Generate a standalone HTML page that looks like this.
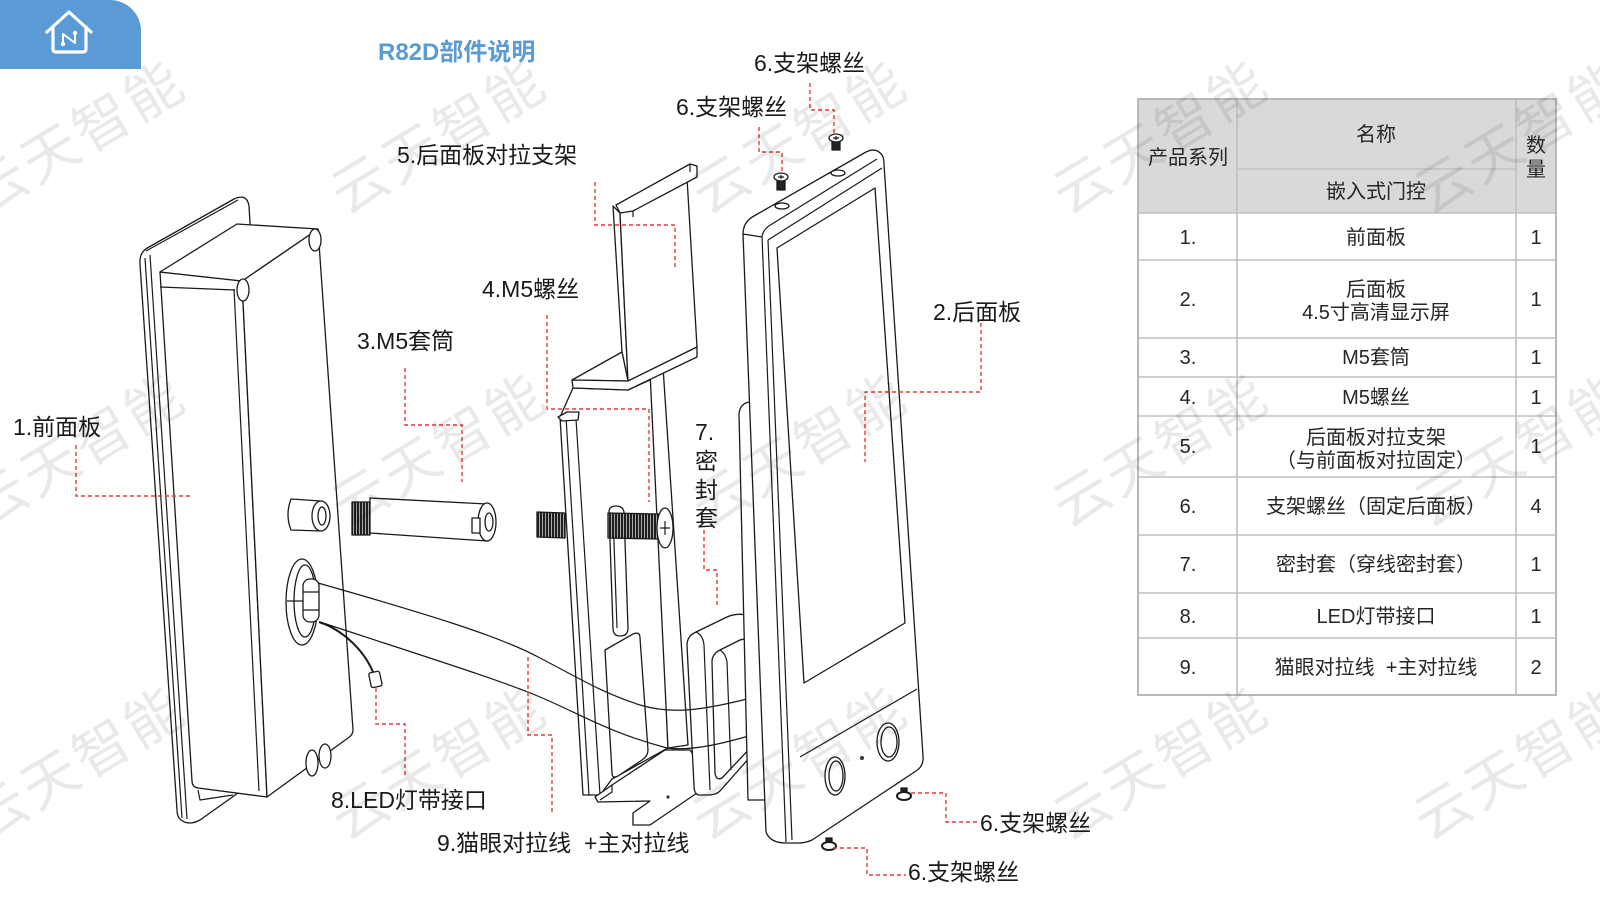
<!DOCTYPE html>
<html><head><meta charset="utf-8">
<style>
html,body{margin:0;padding:0;background:#fff;}
svg{display:block;}
.lb{font-family:"Liberation Sans","Noto Sans CJK SC",sans-serif;font-size:23px;fill:#1a1a1a;white-space:pre;}
.tb{font-family:"Liberation Sans","Noto Sans CJK SC",sans-serif;font-size:20px;fill:#262626;text-anchor:middle;white-space:pre;}
.wm{font-family:"Liberation Sans","Noto Sans CJK SC",sans-serif;font-size:56px;fill:#000;fill-opacity:.085;text-anchor:middle;letter-spacing:4px;}
.d path,.d ellipse,.d rect,.d polygon{fill:#fff;stroke:#1a1a1a;stroke-width:1.3;stroke-linejoin:round;}
.d .o{fill:none;stroke:#1a1a1a;stroke-width:1.2;}
.r{fill:none;stroke:#e23b3b;stroke-width:1.4;stroke-dasharray:4 3;}
.tl{stroke:#c0c0c0;stroke-width:1.6;fill:none;}
</style></head><body>
<svg width="1600" height="900" viewBox="0 0 1600 900" xmlns="http://www.w3.org/2000/svg" xml:space="preserve">
<defs>
<pattern id="th" width="3" height="60" patternUnits="userSpaceOnUse"><rect width="3" height="60" fill="#1e1e1e"/><rect x="2" width="1" height="60" fill="#aaa"/></pattern>
</defs>

<!-- header tab -->
<path d="M0,0 H110 A31,31 0 0 1 141,31 V69 H0 Z" fill="#5b9bd5"/>
<g stroke="#fff" stroke-width="3.2" fill="none" stroke-linecap="round" stroke-linejoin="round">
<path d="M47,32 L69,12 L91,32"/>
<path d="M53,27 V49 Q53,52 56,52 H83 Q86,52 86,49 V27"/>
<path d="M63,44 V34 L75,43 V33" stroke-width="2"/>
</g>
<circle cx="63" cy="44" r="2.2" fill="#fff"/><circle cx="75" cy="33" r="2.2" fill="#fff"/>
<text x="378" y="60" font-family="Liberation Sans, Noto Sans CJK SC, sans-serif" font-size="24" font-weight="bold" fill="#5b9bd5">R82D部件说明</text>

<!-- ========== FRONT PANEL (1) ========== -->
<g class="d">
<path d="M140,264 Q139,252 149,247 L234,199 Q247,193 249,206 L251,240 L238,793 L200,820 Q189,826 181,820 Q177,817 177,810 Z"/>
<path class="o" d="M145,258 L182,818"/>
<path class="o" d="M150,255 L187,819"/>
<path class="o" d="M146,251 L238,200"/>
<path d="M160,272 L242,281 L267,797 L198,788 Q192,787 192,781 Z"/>
<path d="M242,281 L318,229 L353,730 Q353,735 348,738 L267,797 Z"/>
<path d="M160,272 L237,224 L318,229 L242,281 Z"/>
<path class="o" d="M160,287 L235,290"/>
<path class="o" d="M234,289 L259,791"/>
<path class="o" d="M198,790 L200,800 L233,795"/>
<ellipse cx="243" cy="290" rx="6" ry="11"/>
<ellipse cx="315" cy="240" rx="6" ry="11"/>
<path d="M291,499 L321,501 L321,531 L291,530 Q285,515 291,499 Z"/>
<ellipse cx="321" cy="516" rx="9" ry="15"/>
<ellipse cx="322" cy="516" rx="4" ry="9"/>
<ellipse cx="302" cy="602" rx="16" ry="43"/>
<ellipse cx="305" cy="601" rx="11" ry="36"/>
<rect x="303" y="579" width="16" height="43" rx="7"/>
<path class="o" d="M287,601 H303 M303,592 H319 M303,610 H319"/>
<ellipse cx="312" cy="763" rx="6" ry="13"/>
<ellipse cx="325" cy="756" rx="6" ry="12"/>
<path class="o" d="M319,622 C338,628 362,646 373,672" style="stroke-width:2"/>
<rect x="370" y="672" width="11" height="15" rx="2" transform="rotate(-12 375 680)"/>
</g>

<!-- ========== SLEEVE (3) ========== -->
<g class="d">
<rect x="352" y="502" width="18" height="33" style="fill:url(#th)"/>
<path d="M370,498 L487,504 L487,541 L370,533 Z"/>
<ellipse cx="487" cy="522" rx="9" ry="19"/>
<ellipse cx="489" cy="522" rx="4" ry="9"/>
<rect x="472" y="518" width="8" height="15"/>
</g>

<!-- ========== BRACKET (5) ========== -->
<g class="d">
<path d="M560,417 L573,388 L628,390 L652,379 L668,748 L612,779 L600,795 L583,795 Z"/>
<path class="o" d="M566,417 L589,795"/>
<path class="o" d="M576,419 L600,795"/>
<path d="M650,372 L663,367 L688,745 L668,748 Z"/>
<path d="M609,512 Q609,506 616,506 Q623,506 624,512 L628,628 Q628,636 620,636 Q613,636 613,628 Z"/>
<path class="o" d="M613,514 L617,628"/>
<path d="M605,650 L633,634 Q640,631 640,638 L648,750 Q648,756 642,760 L618,776 Q612,779 612,773 Z"/>
<path d="M595,797 L612,785 L665,750 L690,750 L697,760 L697,793 L650,825 L633,825 L633,813 L650,801 L598,802 Z"/>
<path class="o" d="M612,785 L612,792 L600,800"/>
<circle cx="668" cy="797" r="1.6" fill="#333"/>
<path d="M613,206 L620,213 L628,381 L622,352 Z"/>
<path d="M620,213 L687,178 L697,347 L628,381 Z"/>
<path d="M616,205 L690,164 L697,166 L697,177 L633,211 L620,213 Z"/>
<path class="o" d="M633,211 L633,217 M690,164 L690,172"/>
<path d="M572,380 L622,352 L628,381 Z"/>
<path d="M572,380 L628,381 L697,347 L697,357 L628,390 L573,388 Z"/>
<path d="M558,417 L567,412 L579,412 L578,420 L562,421 Z"/>
</g>

<!-- ========== SCREWS (4) ========== -->
<g class="d">
<polygon points="537,512 565,513 565,538 537,537" style="fill:url(#th)"/>
<polygon points="608,513 658,514 658,539 608,538" style="fill:url(#th)"/>
<ellipse cx="665" cy="528" rx="8" ry="20"/>
<path class="o" d="M660,528 H670 M665,521 V535"/>
</g>

<!-- ========== SEAL (7) ========== -->
<g class="d">
<path d="M687,645 Q687,636 696,632 L727,617 Q736,613 746,615 Q753,618 753,628 L758,748 L720,791 Q716,795 708,795 L698,795 Q694,793 694,786 Z"/>
<path class="o" d="M696,632 Q703,635 704,645 L710,790"/>
<path d="M712,662 Q712,654 720,650 L740,640 Q748,637 749,645 L753,745 L722,778 Q716,781 715,773 Z"/>
<path class="o" d="M720,650 Q726,654 727,662 L731,770"/>
</g>

<!-- cables -->
<g class="d">
<path class="o" d="M318,583 C420,612 500,636 540,658 C575,676 600,692 640,705 C670,714 700,712 762,695"/>
<path class="o" d="M320,622 C420,655 500,680 540,697 C580,714 610,733 667,748 C690,751 720,745 762,732"/>
</g>

<!-- ========== BACK PANEL (2) ========== -->
<g class="d">
<path d="M739,414 Q740,403 750,402 L757,402 L765,800 L748,800 Z"/>
<path d="M743,234 Q743,222 754,216 L866,152 Q876,147 882,155 Q884,158 884,164 L923,756 Q924,766 916,771 L812,840 Q806,843 798,843 L786,843 Q770,843 766,832 Z"/>
<path class="o" d="M743,234 L762,237"/>
<path class="o" d="M762,236 L786,842"/>
<path class="o" d="M768,240 L792,840"/>
<path class="o" d="M762,236 Q764,228 772,224 L877,159"/>
<path class="o" d="M768,240 L882,168"/>
<ellipse cx="782" cy="206" rx="7" ry="3"/>
<ellipse cx="838" cy="173" rx="7" ry="3"/>
<polygon points="777,248 875,188 905,623 804,683"/>
<path class="o" d="M800,757 L917,689"/>
<ellipse cx="835" cy="776" rx="10" ry="19"/>
<ellipse cx="836" cy="776" rx="7" ry="15"/>
<ellipse cx="888" cy="742" rx="11" ry="19"/>
<ellipse cx="889" cy="742" rx="8" ry="15"/>
<circle cx="862" cy="758" r="2" style="fill:#333;stroke:none"/>
</g>

<!-- small screws (6) -->
<g class="d">
<g transform="translate(836,138)"><rect x="-4" y="2" width="8" height="10" style="fill:#222"/><ellipse rx="7" ry="4"/><path class="o" d="M-3,0 H3 M0,-2 V2"/></g>
<g transform="translate(781,177)"><rect x="-4" y="2" width="8" height="11" style="fill:#222"/><ellipse rx="7" ry="4"/><path class="o" d="M-3,0 H3 M0,-2 V2"/></g>
<g transform="translate(904,796)"><rect x="-3" y="-8" width="6" height="6" style="fill:#222"/><ellipse rx="7" ry="4" style="stroke-width:2"/></g>
<g transform="translate(829,846)"><rect x="-3" y="-8" width="6" height="6" style="fill:#222"/><ellipse rx="7" ry="4" style="stroke-width:2"/></g>
</g>

<!-- red dashed leaders -->
<path class="r" d="M76,445 V496 H190"/>
<path class="r" d="M405,368 V425 H462 V482"/>
<path class="r" d="M547,315 V409 H649 V502"/>
<path class="r" d="M595,182 V225 H675 V267"/>
<path class="r" d="M810,83 V110 H834 V134"/>
<path class="r" d="M759,127 V152 H782 V172"/>
<path class="r" d="M981,323 V392 H865 V462"/>
<path class="r" d="M704,530 V570 H717 V608"/>
<path class="r" d="M376,688 V724 H405 V777"/>
<path class="r" d="M528,657 V735 H552 V815"/>
<path class="r" d="M911,793 H946 V822 H980"/>
<path class="r" d="M833,848 H867 V875 H906"/>

<!-- labels -->
<text class="lb" x="754" y="71">6.支架螺丝</text>
<text class="lb" x="676" y="115">6.支架螺丝</text>
<text class="lb" x="397" y="163">5.后面板对拉支架</text>
<text class="lb" x="482" y="297">4.M5螺丝</text>
<text class="lb" x="357" y="349">3.M5套筒</text>
<text class="lb" x="933" y="320">2.后面板</text>
<text class="lb" x="13" y="435">1.前面板</text>
<text class="lb" x="695" y="440">7.</text>
<text class="lb" x="695" y="469">密</text>
<text class="lb" x="695" y="498">封</text>
<text class="lb" x="695" y="526">套</text>
<text class="lb" x="331" y="808">8.LED灯带接口</text>
<text class="lb" x="437" y="851">9.猫眼对拉线  +主对拉线</text>
<text class="lb" x="980" y="831">6.支架螺丝</text>
<text class="lb" x="908" y="880">6.支架螺丝</text>

<!-- ========== TABLE ========== -->
<rect x="1138" y="99" width="418" height="114" fill="#d9d9d9"/>
<path class="tl" d="M1237,99 V695 M1516,99 V695 M1237,169 H1516 M1138,213 H1556 M1138,260 H1556 M1138,338 H1556 M1138,377 H1556 M1138,416 H1556 M1138,477 H1556 M1138,535 H1556 M1138,593 H1556 M1138,638 H1556"/>
<rect x="1138" y="99" width="418" height="596" fill="none" stroke="#b8b8b8" stroke-width="2"/>
<text class="tb" x="1188" y="164">产品系列</text>
<text class="tb" x="1376" y="141">名称</text>
<text class="tb" x="1376" y="198">嵌入式门控</text>
<text class="tb" x="1536" y="152">数</text>
<text class="tb" x="1536" y="176">量</text>

<text class="tb" x="1188" y="244">1.</text><text class="tb" x="1376" y="244">前面板</text><text class="tb" x="1536" y="244">1</text>
<text class="tb" x="1188" y="306">2.</text><text class="tb" x="1376" y="296">后面板</text><text class="tb" x="1376" y="319">4.5寸高清显示屏</text><text class="tb" x="1536" y="306">1</text>
<text class="tb" x="1188" y="364">3.</text><text class="tb" x="1376" y="364">M5套筒</text><text class="tb" x="1536" y="364">1</text>
<text class="tb" x="1188" y="404">4.</text><text class="tb" x="1376" y="404">M5螺丝</text><text class="tb" x="1536" y="404">1</text>
<text class="tb" x="1188" y="453">5.</text><text class="tb" x="1376" y="444">后面板对拉支架</text><text class="tb" x="1376" y="467">（与前面板对拉固定）</text><text class="tb" x="1536" y="453">1</text>
<text class="tb" x="1188" y="513">6.</text><text class="tb" x="1376" y="513">支架螺丝（固定后面板）</text><text class="tb" x="1536" y="513">4</text>
<text class="tb" x="1188" y="571">7.</text><text class="tb" x="1376" y="571">密封套（穿线密封套）</text><text class="tb" x="1536" y="571">1</text>
<text class="tb" x="1188" y="623">8.</text><text class="tb" x="1376" y="623">LED灯带接口</text><text class="tb" x="1536" y="623">1</text>
<text class="tb" x="1188" y="674">9.</text><text class="tb" x="1376" y="674">猫眼对拉线  +主对拉线</text><text class="tb" x="1536" y="674">2</text>

<!-- watermarks -->
<g>
<text class="wm" transform="translate(88,154) rotate(-31)">云天智能</text>
<text class="wm" transform="translate(449,154) rotate(-31)">云天智能</text>
<text class="wm" transform="translate(810,154) rotate(-31)">云天智能</text>
<text class="wm" transform="translate(1171,154) rotate(-31)">云天智能</text>
<text class="wm" transform="translate(1532,154) rotate(-31)">云天智能</text>
<text class="wm" transform="translate(88,467) rotate(-31)">云天智能</text>
<text class="wm" transform="translate(449,467) rotate(-31)">云天智能</text>
<text class="wm" transform="translate(810,467) rotate(-31)">云天智能</text>
<text class="wm" transform="translate(1171,467) rotate(-31)">云天智能</text>
<text class="wm" transform="translate(1532,467) rotate(-31)">云天智能</text>
<text class="wm" transform="translate(88,780) rotate(-31)">云天智能</text>
<text class="wm" transform="translate(449,780) rotate(-31)">云天智能</text>
<text class="wm" transform="translate(810,780) rotate(-31)">云天智能</text>
<text class="wm" transform="translate(1171,780) rotate(-31)">云天智能</text>
<text class="wm" transform="translate(1532,780) rotate(-31)">云天智能</text>
</g>
</svg>
</body></html>
